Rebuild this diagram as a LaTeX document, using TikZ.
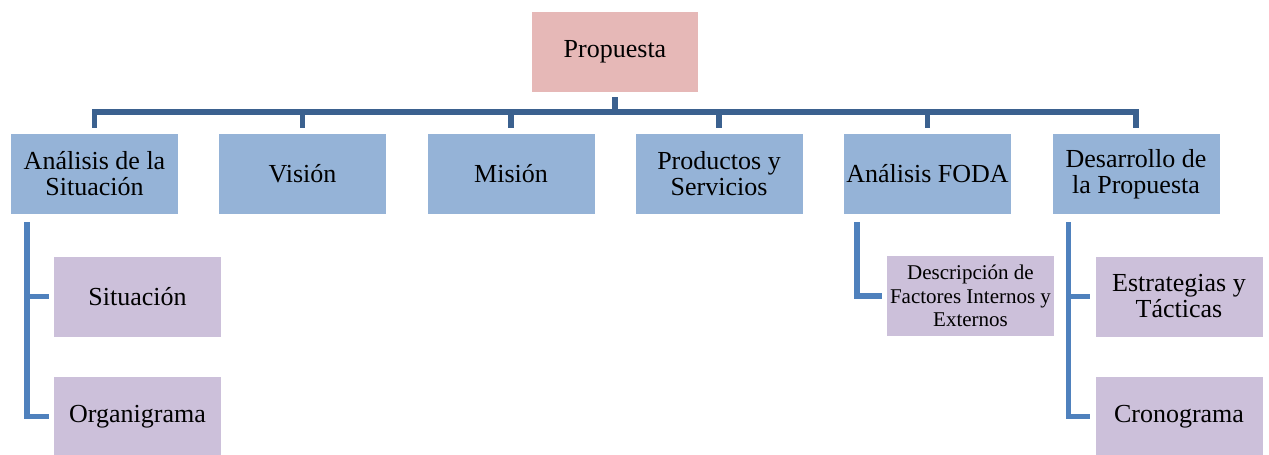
\documentclass[tikz,border=0pt]{standalone}
\usepackage{fontspec}
\setmainfont{Liberation Serif}
\usetikzlibrary{positioning}
\definecolor{rootPink}{RGB}{230,184,183}
\definecolor{mainBlue}{RGB}{149,179,215}
\definecolor{subLilac}{RGB}{204,192,218}
\definecolor{barBlue}{RGB}{59,97,143}
\definecolor{stemBlue}{RGB}{79,129,189}

\begin{document}
\begin{tikzpicture}[x=1pt,y=-1pt,
    box/.style={minimum width=167pt,minimum height=80pt,inner sep=1pt,align=center,
                font=\fontsize{26}{26}\selectfont},
    rootbox/.style={box,fill=rootPink,minimum width=166pt},
    mainbox/.style={box,fill=mainBlue},
    subbox/.style={box,fill=subLilac},
    bar/.style={barBlue,line width=5.5pt},
    stem/.style={stemBlue,line width=5.5pt}]
    \useasboundingbox (0,0) rectangle (1269,455);

    % top of the tree
    \node[rootbox] (prop) at (615,52) {Propuesta};
    \coordinate (hub) at (615,112);

    % first level
    \node[mainbox] (sit)  at (94.5,174)  {Análisis de la\\Situación};
    \node[mainbox] (vis)  at (302.5,174) {Visión};
    \node[mainbox] (mis)  at (511,174)   {Misión};
    \node[mainbox] (prod) at (719,174)   {Productos y\\Servicios};
    \node[mainbox] (foda) at (927.5,174) {Análisis FODA};
    \node[mainbox] (des)  at (1136,174)  {Desarrollo de\\la Propuesta};

    % second level
    \node[subbox] (sitA) at (137.5,296.5) {Situación};
    \node[subbox] (sitB) at (137.5,416.5) {Organigrama};
    \node[subbox,font=\fontsize{21}{23.5}\selectfont] (fodaA) at (970.5,296) {Descripción de\\Factores Internos y\\Externos};
    \node[subbox] (desA) at (1179,296.5) {Estrategias y\\Tácticas};
    \node[subbox] (desB) at (1179,416.5) {Cronograma};

    % connectors
    \draw[bar,shorten <=5pt] (prop.south) -- (hub);
    \foreach \n in {sit,vis,mis,prod,foda,des}
        \draw[bar,shorten <=6pt] (\n.north) |- (hub);

    \draw[stem,shorten <=8pt,shorten >=5pt] ([xshift=16pt]sit.south west) |- (sitA.west);
    \draw[stem,shorten <=8pt,shorten >=5pt] ([xshift=16pt]sit.south west) |- (sitB.west);
    \draw[stem,shorten <=8pt,shorten >=5pt] ([xshift=13pt]foda.south west) |- (fodaA.west);
    \draw[stem,shorten <=8pt,shorten >=5pt] ([xshift=16pt]des.south west) |- (desA.west);
    \draw[stem,shorten <=8pt,shorten >=5pt] ([xshift=16pt]des.south west) |- (desB.west);
\end{tikzpicture}
\end{document}
